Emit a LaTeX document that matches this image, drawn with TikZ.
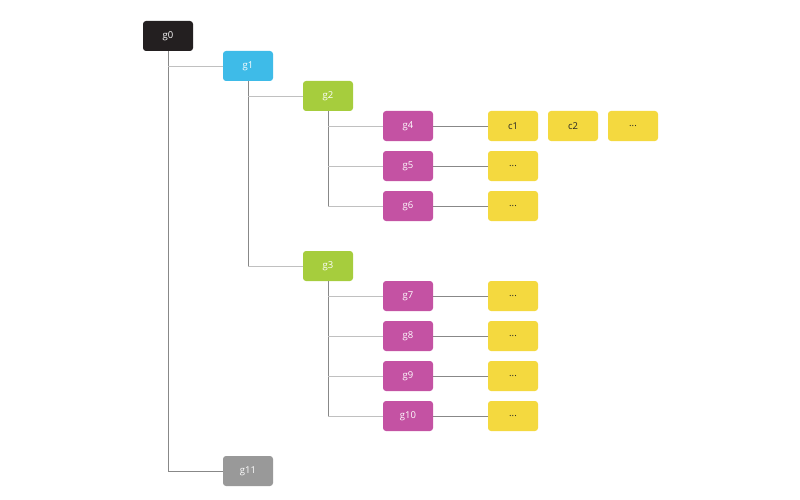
\documentclass[tikz,border=0pt]{standalone}
\usepackage{fontspec}
\setmainfont{Open Sans}
\begin{document}
\begin{tikzpicture}[x=1pt,y=-1pt,
  box/.style={rounded corners=3pt,minimum width=50pt,minimum height=30pt,inner sep=0pt,font=\fontsize{9.5}{11}\selectfont,text=white},
  blk/.style={box,fill=black!88!red!60!black},
  blu/.style={box,fill={rgb,255:red,62;green,187;blue,232}},
  grn/.style={box,fill={rgb,255:red,166;green,205;blue,61}},
  mag/.style={box,fill={rgb,255:red,196;green,82;blue,163}},
  yel/.style={box,fill={rgb,255:red,244;green,217;blue,63},text=black!85},
  gry/.style={box,fill={rgb,255:red,153;green,153;blue,153}},
  trunk/.style={draw={rgb,255:red,136;green,136;blue,136},line width=0.9pt},
  twig/.style={draw={rgb,255:red,192;green,192;blue,192},line width=0.9pt},
  leafln/.style={draw={rgb,255:red,136;green,136;blue,136},line width=0.9pt}]
\useasboundingbox (0,0) rectangle (800,500);
\node[box,fill={rgb,255:red,35;green,31;blue,32}] (g0) at (168,36) {g0};
\node[blu] (g1) at (248,66) {g1};
\node[grn] (g2) at (328,96) {g2};
\node[grn] (g3) at (328,266) {g3};
\node[mag] (g4) at (408,126) {g4};
\node[mag] (g5) at (408,166) {g5};
\node[mag] (g6) at (408,206) {g6};
\node[mag] (g7) at (408,296) {g7};
\node[mag] (g8) at (408,336) {g8};
\node[mag] (g9) at (408,376) {g9};
\node[mag] (g10) at (408,416) {g10};
\node[gry] (g11) at (248,471) {g11};
\node[yel] (c1) at (513,126) {c1};
\node[yel] (c2) at (573,126) {c2};
\node[yel] (c3) at (633,126) {...};
\node[yel] (d5) at (513,166) {...};
\node[yel] (d6) at (513,206) {...};
\node[yel] (d7) at (513,296) {...};
\node[yel] (d8) at (513,336) {...};
\node[yel] (d9) at (513,376) {...};
\node[yel] (d10) at (513,416) {...};
% trunks
\draw[trunk] (g0.south) -- (g0.south |- g11.west) -- (g11.west);
\draw[twig] (g0.south |- g1.west) -- (g1.west);
\draw[trunk] (g1.south) -- (g1.south |- g3.west);
\draw[twig] (g1.south |- g2.west) -- (g2.west);
\draw[twig] (g1.south |- g3.west) -- (g3.west);
\draw[trunk] (g2.south) -- (g2.south |- g6.west);
\foreach \n in {g4,g5,g6} \draw[twig] (g2.south |- \n.west) -- (\n.west);
\draw[trunk] (g3.south) -- (g3.south |- g10.west);
\foreach \n in {g7,g8,g9,g10} \draw[twig] (g3.south |- \n.west) -- (\n.west);
% leaves
\draw[leafln] (g4) -- (c1);
\draw[leafln] (g5) -- (d5);
\draw[leafln] (g6) -- (d6);
\draw[leafln] (g7) -- (d7);
\draw[leafln] (g8) -- (d8);
\draw[leafln] (g9) -- (d9);
\draw[leafln] (g10) -- (d10);
\end{tikzpicture}
\end{document}
